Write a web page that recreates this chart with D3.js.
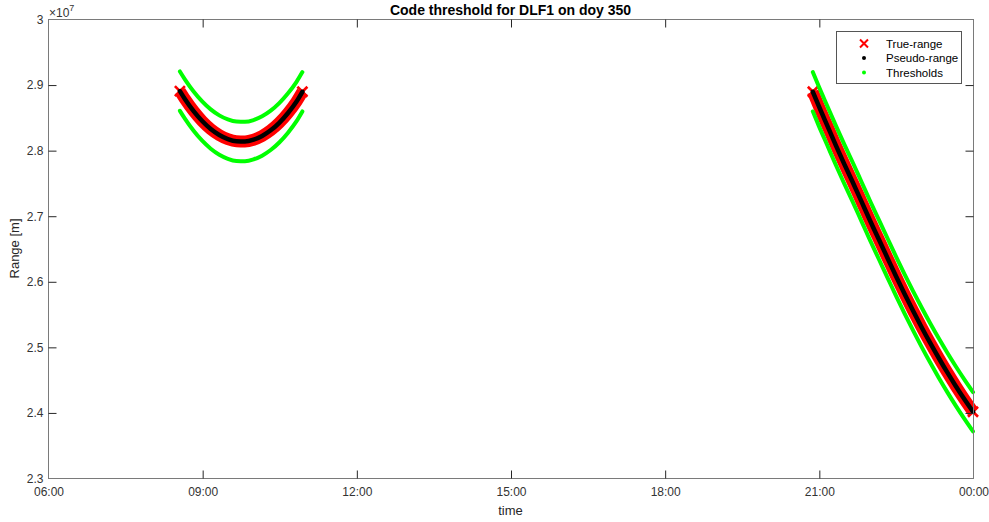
<!DOCTYPE html>
<html>
<head>
<meta charset="utf-8">
<script src="https://cdn.jsdelivr.net/npm/d3@7"></script>
<style>
  html, body { margin: 0; padding: 0; background: #fff; }
  svg { display: block; font-family: "Liberation Sans", Arial, Helvetica, sans-serif; }
</style>
</head>
<body>
<svg id="chart" width="989" height="522"></svg>
<script>
// ---------------- DATA ----------------
const titleText = "Code threshold for DLF1 on doy 350";
const xLabelText = "time";
const yLabelText = "Range [m]";
const xTickValues = [6, 9, 12, 15, 18, 21, 24];
const xTickLabels = ["06:00", "09:00", "12:00", "15:00", "18:00", "21:00", "00:00"];
const yTickValues = [2.3e7, 2.4e7, 2.5e7, 2.6e7, 2.7e7, 2.8e7, 2.9e7, 3.0e7];
const yTickLabels = ["2.3", "2.4", "2.5", "2.6", "2.7", "2.8", "2.9", "3"];
const legendLabels = ["True-range", "Pseudo-range", "Thresholds"];

// Pass 1
const pass1Times = ["08:34","08:40","08:50","09:00","09:10","09:20","09:30","09:40","09:50","10:00","10:10","10:20","10:30","10:40","10:50","10:57"];
const pass1TrueRange   = [2.8900e7,2.8777e7,2.8596e7,2.8444e7,2.8322e7,2.8230e7,2.8168e7,2.8135e7,2.8132e7,2.8159e7,2.8216e7,2.8302e7,2.8417e7,2.8563e7,2.8738e7,2.8890e7];
const pass1PseudoRange = [2.8900e7,2.8777e7,2.8596e7,2.8444e7,2.8322e7,2.8230e7,2.8168e7,2.8135e7,2.8132e7,2.8159e7,2.8216e7,2.8302e7,2.8417e7,2.8563e7,2.8738e7,2.8890e7];
const pass1Upper       = [2.9200e7,2.9077e7,2.8896e7,2.8744e7,2.8622e7,2.8530e7,2.8468e7,2.8435e7,2.8432e7,2.8459e7,2.8516e7,2.8602e7,2.8717e7,2.8863e7,2.9038e7,2.9190e7];
const pass1Lower       = [2.8600e7,2.8477e7,2.8296e7,2.8144e7,2.8022e7,2.7930e7,2.7868e7,2.7835e7,2.7832e7,2.7859e7,2.7916e7,2.8002e7,2.8117e7,2.8263e7,2.8438e7,2.8590e7];

// Pass 2
const pass2Times = ["20:53","21:00","21:10","21:20","21:30","21:40","21:50","22:00","22:10","22:20","22:30","22:40","22:50","23:00","23:10","23:20","23:30","23:40","23:50","00:00"];
const pass2TrueRange   = [2.889e7,2.867e7,2.837e7,2.807e7,2.778e7,2.750e7,2.721e7,2.692e7,2.664e7,2.636e7,2.608e7,2.581e7,2.555e7,2.530e7,2.506e7,2.483e7,2.461e7,2.440e7,2.420e7,2.401e7];
const pass2PseudoRange = [2.889e7,2.867e7,2.837e7,2.807e7,2.778e7,2.750e7,2.721e7,2.692e7,2.664e7,2.636e7,2.608e7,2.581e7,2.555e7,2.530e7,2.506e7,2.483e7,2.461e7,2.440e7,2.420e7,2.401e7];
const pass2Upper       = [2.919e7,2.897e7,2.867e7,2.837e7,2.808e7,2.780e7,2.751e7,2.722e7,2.694e7,2.666e7,2.638e7,2.611e7,2.585e7,2.560e7,2.536e7,2.513e7,2.491e7,2.470e7,2.450e7,2.431e7];
const pass2Lower       = [2.859e7,2.837e7,2.807e7,2.777e7,2.748e7,2.720e7,2.691e7,2.662e7,2.634e7,2.606e7,2.578e7,2.551e7,2.525e7,2.500e7,2.476e7,2.453e7,2.431e7,2.410e7,2.390e7,2.371e7];

// ---------------- CHART ----------------
const W = 989, H = 522;
const margin = { left: 48, right: 16, top: 19, bottom: 44 };
const svg = d3.select("#chart");

function toHours(s) {
  const [h, m] = s.split(":").map(Number);
  let v = h + m / 60;
  if (v < 6) v += 24;
  return v;
}

const x = d3.scaleLinear().domain([6, 24]).range([margin.left, W - margin.right]);
const y = d3.scaleLinear().domain([2.3e7, 3.0e7]).range([H - margin.bottom, margin.top]);

const x0 = x.range()[0], x1 = x.range()[1];
const y0 = y.range()[0], y1 = y.range()[1];

svg.append("rect").attr("x", x0).attr("y", y1).attr("width", x1 - x0).attr("height", y0 - y1)
  .attr("fill", "#fff");

const passes = [
  { t: pass1Times, tr: pass1TrueRange, pr: pass1PseudoRange, up: pass1Upper, lo: pass1Lower },
  { t: pass2Times, tr: pass2TrueRange, pr: pass2PseudoRange, up: pass2Upper, lo: pass2Lower }
];

const line = d3.line().x(d => x(d[0])).y(d => y(d[1])).curve(d3.curveMonotoneX);

const RED = "#ff0000", GREEN = "#00ff00", BLACK = "#000000";

function xMarkPath(cx, cy, r) {
  return `M${cx - r},${cy - r}L${cx + r},${cy + r}M${cx - r},${cy + r}L${cx + r},${cy - r}`;
}

const marks = svg.append("g");
passes.forEach(p => {
  const hrs = p.t.map(toHours);
  const tr = hrs.map((h, i) => [h, p.tr[i]]);
  const pr = hrs.map((h, i) => [h, p.pr[i]]);
  const up = hrs.map((h, i) => [h, p.up[i]]);
  const lo = hrs.map((h, i) => [h, p.lo[i]]);

  // True-range (red x band)
  marks.append("path").datum(tr).attr("d", line)
    .attr("fill", "none").attr("stroke", RED).attr("stroke-width", 12);
  marks.append("g").selectAll("path").data([tr[0], tr[tr.length - 1]]).join("path")
    .attr("d", d => xMarkPath(x(d[0]), y(d[1]), 5))
    .attr("stroke", RED).attr("stroke-width", 2.6).attr("fill", "none");

  // Pseudo-range (black dots)
  marks.append("path").datum(pr).attr("d", line)
    .attr("fill", "none").attr("stroke", BLACK).attr("stroke-width", 4.5)
    .attr("stroke-linecap", "round");

  // Thresholds (green dots)
  [up, lo].forEach(th => {
    marks.append("path").datum(th).attr("d", line)
      .attr("fill", "none").attr("stroke", GREEN).attr("stroke-width", 4)
      .attr("stroke-linecap", "round");
  });
});

// ---------------- AXES ----------------
const axisColor = "#262626";
const frameColor = "#7a7a7a";
const tickFont = 12;

svg.append("rect").attr("x", x0 + 0.5).attr("y", y1 + 0.5)
  .attr("width", x1 - x0).attr("height", y0 - y1)
  .attr("fill", "none").attr("stroke", frameColor).attr("stroke-width", 1);

const xFmt = (d) => xTickLabels[xTickValues.indexOf(d)];
const yFmt = (d) => yTickLabels[yTickValues.indexOf(d)];

const gxb = svg.append("g").attr("transform", `translate(0.5,${y0 + 0.5})`)
  .call(d3.axisBottom(x).tickValues(xTickValues).tickFormat(xFmt).tickSizeInner(-8).tickSizeOuter(0).tickPadding(9));
const gxt = svg.append("g").attr("transform", `translate(0.5,${y1 + 0.5})`)
  .call(d3.axisTop(x).tickValues(xTickValues).tickFormat("").tickSizeInner(-8).tickSizeOuter(0));
const gyl = svg.append("g").attr("transform", `translate(${x0 + 0.5},0.5)`)
  .call(d3.axisLeft(y).tickValues(yTickValues).tickFormat(yFmt).tickSizeInner(-8).tickSizeOuter(0).tickPadding(5));
const gyr = svg.append("g").attr("transform", `translate(${x1 + 0.5},0.5)`)
  .call(d3.axisRight(y).tickValues(yTickValues).tickFormat("").tickSizeInner(-8).tickSizeOuter(0));

[gxb, gxt, gyl, gyr].forEach(g => {
  g.select(".domain").remove();
  g.selectAll(".tick line").attr("stroke", axisColor).attr("stroke-width", 1);
  g.selectAll(".tick text").attr("fill", "#333").attr("font-size", tickFont)
    .attr("font-family", "'Liberation Sans', Arial, sans-serif");
});
[gxb, gxt].forEach(g => g.selectAll(".tick line").filter(d => d === 6 || d === 24).remove());
[gyl, gyr].forEach(g => g.selectAll(".tick line").filter(d => d === 2.3e7 || d === 3.0e7).remove());

// exponent label
const expT = svg.append("text").attr("x", x0 + 1).attr("y", 16.5)
  .attr("font-size", 12).attr("fill", "#333");
expT.append("tspan").text("\u00d710");
expT.append("tspan").attr("font-size", 9).attr("dy", -6).text("7");

// title
svg.append("text").attr("x", (x0 + x1) / 2).attr("y", 15)
  .attr("text-anchor", "middle").attr("font-size", 14).attr("font-weight", "bold")
  .attr("fill", "#000").text(titleText);

// axis labels
svg.append("text").attr("x", (x0 + x1) / 2).attr("y", 515)
  .attr("text-anchor", "middle").attr("font-size", 13).attr("fill", "#262626").text(xLabelText);
svg.append("text").attr("transform", `translate(19,${(y0 + y1) / 2}) rotate(-90)`)
  .attr("text-anchor", "middle").attr("font-size", 13).attr("fill", "#262626").text(yLabelText);

// ---------------- LEGEND ----------------
const lg = svg.append("g");
lg.append("rect").attr("x", 836.5).attr("y", 31.5).attr("width", 125).attr("height", 52)
  .attr("fill", "#fff").attr("stroke", "#555").attr("stroke-width", 1);
const rowsY = [43.5, 58, 72.5];
lg.append("path").attr("d", xMarkPath(864, rowsY[0], 4)).attr("stroke", RED)
  .attr("stroke-width", 2).attr("fill", "none");
lg.append("circle").attr("cx", 864).attr("cy", rowsY[1]).attr("r", 2).attr("fill", BLACK);
lg.append("circle").attr("cx", 864).attr("cy", rowsY[2]).attr("r", 2).attr("fill", GREEN);
legendLabels.forEach((lab, i) => {
  lg.append("text").attr("x", 886).attr("y", rowsY[i] + 4).attr("font-size", 11.5)
    .attr("fill", "#000").text(lab);
});
</script>
</body>
</html>
